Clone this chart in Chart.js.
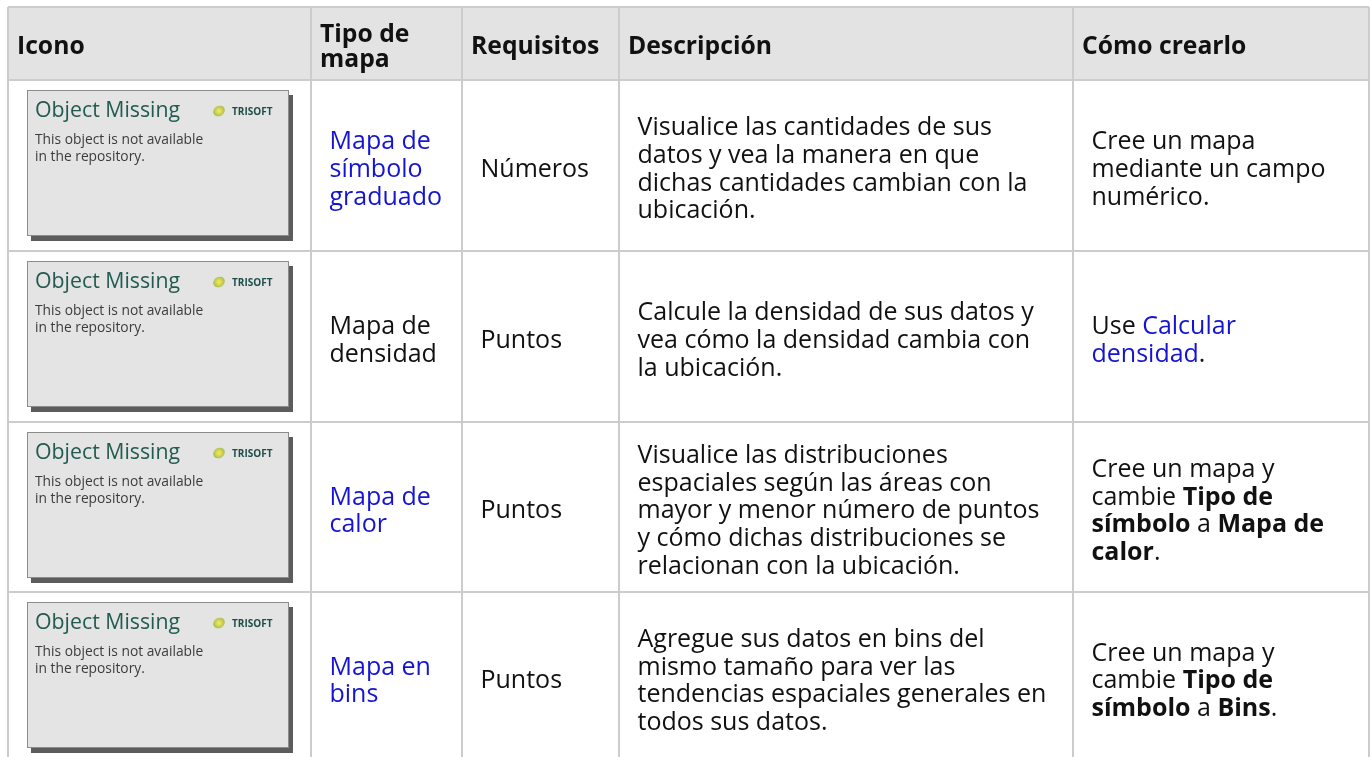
<!DOCTYPE html>
<html lang="es">
<head>
<meta charset="utf-8">
<title>Tipos de mapa</title>
<script src="https://cdn.jsdelivr.net/npm/chart.js@4.4.1/dist/chart.umd.min.js"></script>
<style>
  html, body { margin: 0; padding: 0; background: #fff; }
  #wrap { width: 1371px; height: 757px; position: relative; }
</style>
</head>
<body>
<div id="wrap"><canvas id="maptypes"></canvas></div>
<script>
// table content ([...] = link, **...** = bold)
const headers = ['Icono', 'Tipo de\nmapa', 'Requisitos', 'Descripción', 'Cómo crearlo'];
const mapTypes = [
  '[Mapa de]\n[símbolo]\n[graduado]',
  'Mapa de\ndensidad',
  '[Mapa de]\n[calor]',
  '[Mapa en]\n[bins]'
];
const requirements = ['Números', 'Puntos', 'Puntos', 'Puntos'];
const descriptions = [
  'Visualice las cantidades de sus\ndatos y vea la manera en que\ndichas cantidades cambian con la\nubicación.',
  'Calcule la densidad de sus datos y\nvea cómo la densidad cambia con\nla ubicación.',
  'Visualice las distribuciones\nespaciales según las áreas con\nmayor y menor número de puntos\ny cómo dichas distribuciones se\nrelacionan con la ubicación.',
  'Agregue sus datos en bins del\nmismo tamaño para ver las\ntendencias espaciales generales en\ntodos sus datos.'
];
const howTo = [
  'Cree un mapa\nmediante un campo\nnumérico.',
  'Use [Calcular]\n[densidad].',
  'Cree un mapa y\ncambie **Tipo de**\n**símbolo** a **Mapa de**\n**calor**.',
  'Cree un mapa y\ncambie **Tipo de**\n**símbolo** a **Bins**.'
];
const iconTitle = 'Object Missing';
const iconNote = ['This object is not available', 'in the repository.'];
const iconLogo = 'TRISOFT';

// cell edges in table units
const colEdges = [0, 303, 454, 611, 1065, 1361];
const rowEdges = [0, 73, 244, 415, 585, 755];

const TEXT = '#111111';
const LINK = '#1414d2';
const FONT = '"Open Sans", "Noto Sans", sans-serif';

function parseLine(line) {
  return line.split(/(\*\*[^*]+\*\*|\[[^\]]+\])/).filter(Boolean).map(t => {
    if (t.startsWith('**')) return { text: t.slice(2, -2), bold: true };
    if (t.startsWith('[')) return { text: t.slice(1, -1), link: true };
    return { text: t };
  });
}

function drawCell(ctx, content, left, center, st) {
  const lines = content.split('\n');
  const n = lines.length;
  lines.forEach((line, i) => {
    let cx = left;
    const base = center + (i - (n - 1) / 2) * st.lineHeight + st.size * 0.357 + st.offset;
    parseLine(line).forEach(seg => {
      ctx.font = ((seg.bold || st.bold) ? 'bold ' : '') + st.size + 'px ' + FONT;
      ctx.fillStyle = seg.link ? LINK : TEXT;
      ctx.fillText(seg.text, cx, base);
      cx += ctx.measureText(seg.text).width;
    });
  });
}

function drawIcon(ctx, left, top) {
  const w = 262, h = 146;
  ctx.fillStyle = '#5c5c5c';
  ctx.fillRect(left + 4, top + 5, w, h);
  ctx.fillStyle = '#e4e4e4';
  ctx.fillRect(left, top, w, h);
  ctx.strokeStyle = '#8c8c8c';
  ctx.lineWidth = 1;
  ctx.strokeRect(left + 0.5, top + 0.5, w - 1, h - 1);

  ctx.font = '21.3px ' + FONT;
  ctx.fillStyle = '#235b50';
  ctx.fillText(iconTitle, left + 8, top + 27);

  ctx.font = '13.8px ' + FONT;
  ctx.fillStyle = '#3c3c3c';
  ctx.fillText(iconNote[0], left + 8, top + 53.5);
  ctx.fillText(iconNote[1], left + 8, top + 71);

  // logo swirl + name
  const g = ctx.createRadialGradient(left + 192, top + 21, 1, left + 192, top + 21, 6);
  g.addColorStop(0, '#f2e25a');
  g.addColorStop(1, '#9fbe4e');
  ctx.fillStyle = g;
  ctx.beginPath();
  ctx.ellipse(left + 192, top + 21, 6, 5, -0.5, 0, Math.PI * 2);
  ctx.fill();
  ctx.font = 'bold 10px ' + FONT;
  ctx.fillStyle = '#1d4e48';
  ctx.fillText(iconLogo, left + 205, top + 24.5);
}

const headStyle = { size: 24.7, lineHeight: 25, bold: true, offset: 1.8 };
const bodyStyle = { size: 25, lineHeight: 27.7, bold: false, offset: 2.5 };

const tablePlugin = {
  id: 'tableCells',
  beforeDraw(chart) {
    const { ctx, scales: { x, y } } = chart;
    const x0 = x.getPixelForValue(colEdges[0]);
    const x1 = x.getPixelForValue(colEdges[colEdges.length - 1]);
    const y0 = y.getPixelForValue(rowEdges[0]);
    const y1 = y.getPixelForValue(rowEdges[1]);
    ctx.save();
    ctx.fillStyle = '#e3e3e3';
    ctx.fillRect(x0, y0, x1 - x0, y1 - y0);
    ctx.restore();
  },
  afterDraw(chart) {
    const { ctx, scales: { x, y } } = chart;
    const colLeft = c => x.getPixelForValue(colEdges[c]);
    const rowMid = r => (y.getPixelForValue(rowEdges[r]) + y.getPixelForValue(rowEdges[r + 1])) / 2;
    ctx.save();
    ctx.textBaseline = 'alphabetic';

    headers.forEach((h, c) => drawCell(ctx, h, colLeft(c) + 9, rowMid(0), headStyle));

    const bodyCols = [mapTypes, requirements, descriptions, howTo];
    for (let r = 0; r < requirements.length; r++) {
      drawIcon(ctx, colLeft(0) + 19, y.getPixelForValue(rowEdges[r + 1]) + 10);
      bodyCols.forEach((col, k) => {
        drawCell(ctx, col[r], colLeft(k + 1) + 18.5, rowMid(r + 1), bodyStyle);
      });
    }
    ctx.restore();
  }
};

const gridStyle = { color: '#cccccc', lineWidth: 2, drawTicks: false };

new Chart(document.getElementById('maptypes'), {
  type: 'scatter',
  data: { datasets: [] },
  options: {
    responsive: true,
    maintainAspectRatio: false,
    animation: false,
    events: [],
    layout: { padding: { left: 8, top: 7, right: 2, bottom: 0 } },
    plugins: { legend: { display: false }, tooltip: { enabled: false } },
    scales: {
      x: {
        type: 'linear', position: 'top', min: 0, max: 1361,
        afterBuildTicks: s => { s.ticks = colEdges.map(v => ({ value: v })); },
        ticks: { display: false },
        grid: gridStyle,
        border: { display: false }
      },
      y: {
        type: 'linear', reverse: true, min: 0, max: 750,
        afterBuildTicks: s => { s.ticks = rowEdges.filter(v => v <= 750).map(v => ({ value: v })); },
        ticks: { display: false },
        grid: gridStyle,
        border: { display: false }
      }
    }
  },
  plugins: [tablePlugin]
});
</script>
</body>
</html>
